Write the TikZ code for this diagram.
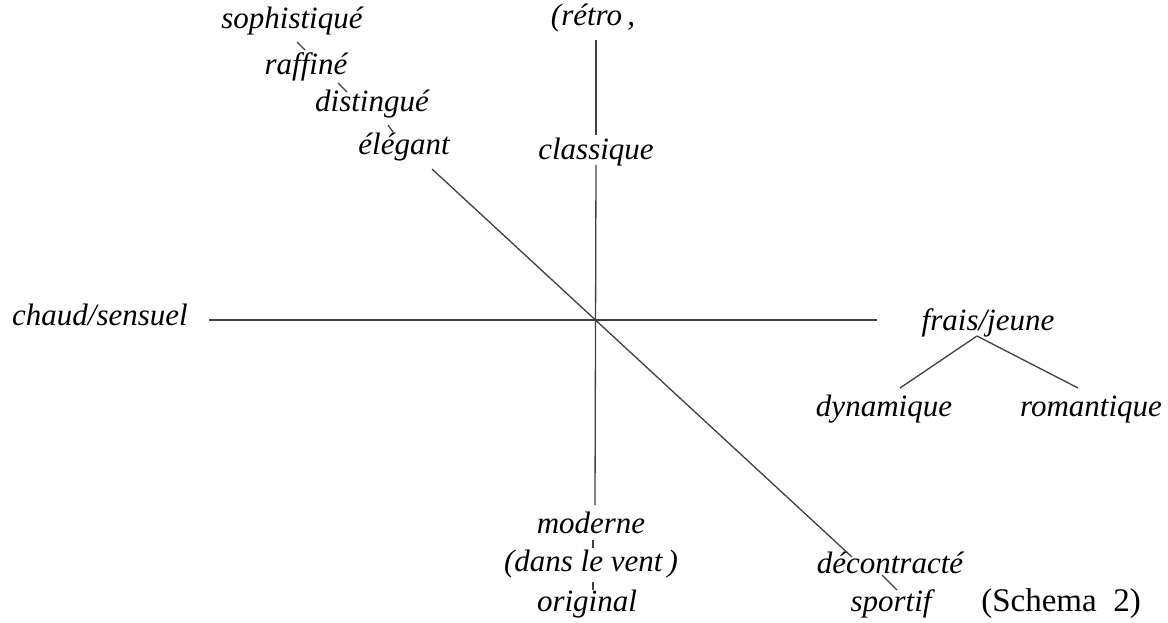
\documentclass[tikz,border=0pt]{standalone}
\usepackage{fontspec}
\setmainfont{Liberation Serif}
\usetikzlibrary{calc}
\begin{document}
\begin{tikzpicture}[x=1pt,y=-1pt,
  lbl/.style={font=\itshape\fontsize{31}{34}\selectfont, inner sep=0pt, anchor=base},
  uprt/.style={font=\fontsize{33}{36}\selectfont, inner sep=0pt, anchor=base},
  ln/.style={line width=1.3pt, draw=black!75}]
\useasboundingbox[fill=white] (0,0) rectangle (1168,623);
% labels
\node[lbl] (soph) at (292,29) {sophistiqué};
\node[lbl] (raff) at (306,75) {raffiné};
\node[lbl] (dist) at (372,112) {distingué};
\node[lbl] (eleg) at (404,155) {élégant};
\node[lbl] (retro) at (593,26) {(rétro\,,};
\node[lbl] (class) at (596,160) {classique};
\node[lbl] (chaud) at (100,325) {chaud/sensuel};
\node[lbl] (frais) at (988,330) {frais/jeune};
\node[lbl] (dyn) at (884,416) {dynamique};
\node[lbl] (rom) at (1091,416) {romantique};
\node[lbl] (mod) at (591,533) {moderne};
\node[lbl] (dans) at (591,571) {(dans le vent\,)};
\node[lbl] (orig) at (587,611) {original};
\node[lbl] (decon) at (890,573) {décontracté};
\node[lbl] (sport) at (891,611) {sportif};
\node[uprt] (schema) at (1061,611) {(Schema\ \ 2)};
% axes
\draw[ln] ($(retro.base)+(3,14)$) -- ($(class.base)+(0,-25)$);
\draw[ln] ($(class.base)+(0,5)$) -- ($(mod.base)+(4,-28)$);
\draw[ln] ($(mod.base)+(2,7)$) -- ($(dans.base)+(2,-23)$);
\draw[ln] ($(dans.base)+(2,11)$) -- ($(orig.base)+(6,-21)$);
\draw[ln] ($(chaud.base east)+(21,-5)$) -- ($(frais.base west)+(-45,-10)$);
\draw[ln] ($(eleg.base)+(28,14)$) -- ($(decon.base)+(-38,-16)$);
\draw[ln] ($(decon.base)+(-8,2)$) -- ($(sport.base)+(6,-21)$);
% chain of small ticks
\draw[ln] ($(soph.base)+(5,13)$) -- ($(raff.base)+(-1,-25)$);
\draw[ln] ($(raff.base)+(32,8)$) -- ($(dist.base)+(-25,-20)$);
\draw[ln] ($(dist.base)+(16,13)$) -- ($(eleg.base)+(-11,-23)$);
% frais/jeune branches
\draw[ln] ($(frais.base)+(-11,6)$) -- ($(dyn.base)+(16,-28)$);
\draw[ln] ($(frais.base)+(-11,6)$) -- ($(rom.base)+(-13,-28)$);
\end{tikzpicture}
\end{document}
